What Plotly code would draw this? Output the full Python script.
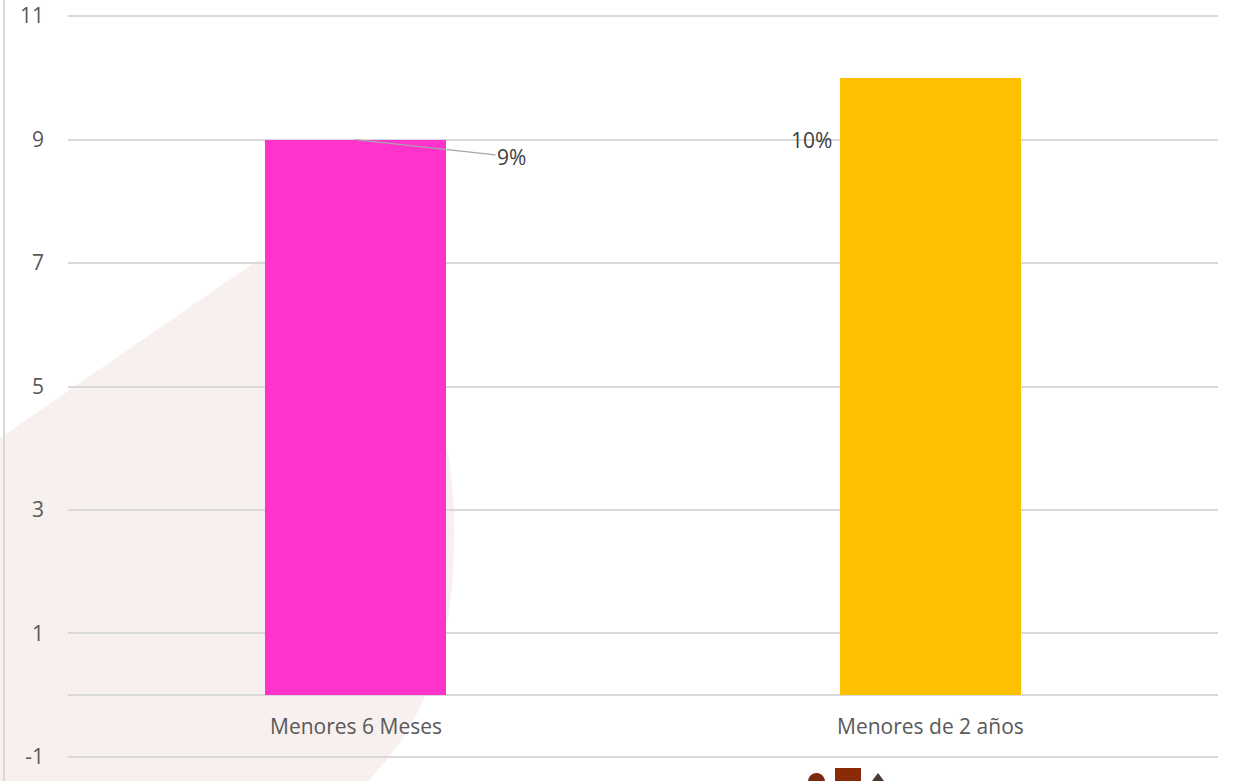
import plotly.graph_objects as go

categories = ["Menores 6 Meses", "Menores de 2 años"]
values = [9, 10]
labels = ["9%", "10%"]
colors = ["#FF33CC", "#FFC000"]
y_ticks = [-1, 1, 3, 5, 7, 9, 11]
y_tick_text = ["-1", "1", "3", "5", "7", "9", "11"]

FONT = "Open Sans"
TXT = "#595959"
FS = 21

fig = go.Figure()
fig.add_trace(go.Bar(
    x=categories, y=values, marker=dict(color=colors, line=dict(width=0)),
    width=0.315, hoverinfo="skip",
))

# data labels
fig.add_annotation(x=categories[0], y=values[0], text=labels[0], showarrow=True,
                   arrowhead=0, arrowwidth=1.2, arrowcolor="#A6A6A6",
                   ax=156, ay=17, font=dict(family=FONT, size=FS, color="#404040"))
fig.add_annotation(x=categories[1], y=values[1], text=labels[1], showarrow=False,
                   xshift=-119, yshift=-62, font=dict(family=FONT, size=FS, color="#404040"))

# category labels at the zero line
for c in categories:
    fig.add_annotation(x=c, y=0, text=c, showarrow=False, yanchor="middle",
                       yshift=-31, font=dict(family=FONT, size=FS, color=TXT))

# paper coordinates for decorative shapes: plot area spans page x 68..1218, y 13..760
def px(X):
    return (X - 68) / 1150

def py(Y):
    return (760 - Y) / 747

shapes = [
    # faint watermark shape on the left
    dict(type="path", xref="paper", yref="paper", layer="below",
         path=(f"M {px(0)} {py(438)} L {px(258)} {py(260)} "
               f"Q {px(470)} {py(300)} {px(453)} {py(570)} "
               f"Q {px(447)} {py(700)} {px(368)} {py(781)} "
               f"L {px(0)} {py(781)} Z"),
         fillcolor="#F7F0EE", line=dict(width=0)),
    # left border line
    dict(type="line", xref="paper", yref="paper", x0=px(4), x1=px(4), y0=py(781), y1=py(0),
         line=dict(color="#D9D9D9", width=2)),
    # small logo at bottom
    dict(type="rect", xref="paper", yref="paper", x0=px(835), x1=px(861), y0=py(781), y1=py(768),
         fillcolor="#8B2A08", line=dict(width=0), layer="above"),
    dict(type="circle", xref="paper", yref="paper", x0=px(808), x1=px(825), y0=py(790), y1=py(773),
         fillcolor="#7A2A10", line=dict(width=0), layer="above"),
    dict(type="path", xref="paper", yref="paper", layer="above",
         path=f"M {px(872)} {py(781)} L {px(878)} {py(773)} L {px(884)} {py(781)} Z",
         fillcolor="#4A3A30", line=dict(width=0)),
]

fig.update_layout(
    width=1245, height=781,
    margin=dict(l=68, r=27, t=13, b=21),
    paper_bgcolor="white", plot_bgcolor="rgba(0,0,0,0)",
    showlegend=False, bargap=0,
    shapes=shapes,
    xaxis=dict(showticklabels=False, showgrid=False, zeroline=False, showline=False,
               range=[-0.5, 1.5], automargin=False),
    yaxis=dict(range=[-1.05, 11.05], tickvals=y_ticks, ticktext=y_tick_text, showgrid=True,
               gridcolor="#D9D9D9", gridwidth=1.5, zeroline=True, zerolinecolor="#D9D9D9",
               zerolinewidth=1.5, showline=False, ticks="", ticklabelstandoff=23,
               ticklabeloverflow="allow", automargin=False,
               tickfont=dict(family=FONT, size=FS, color=TXT)),
)

fig.write_html("out.html", config={"displayModeBar": False},
               post_script="document.body.style.margin='0';")
